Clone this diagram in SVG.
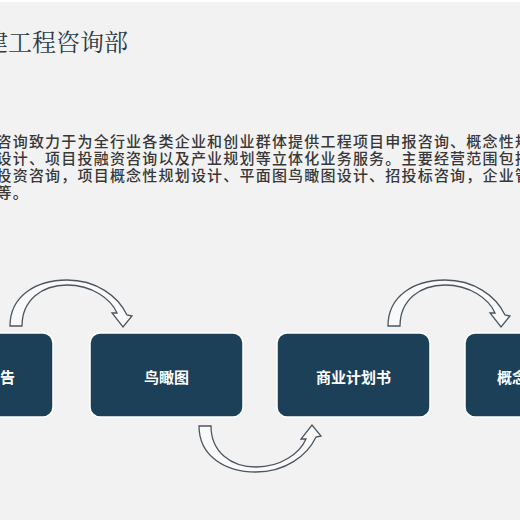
<svg xmlns="http://www.w3.org/2000/svg" width="520" height="520" viewBox="0 0 520 520">
  <style>
    .title { font-family: "Noto Serif CJK SC", "Noto Sans CJK SC", serif; font-size: 24px; fill: #2c3b47; }
    .body { font-family: "Noto Sans CJK SC", sans-serif; font-size: 15px; font-weight: 500; fill: #383838; letter-spacing: 1.2px; }
    .box { fill: #1c4058; stroke: #ffffff; stroke-width: 1.5; }
    .label { font-family: "Noto Sans CJK SC", sans-serif; font-size: 15px; font-weight: bold; fill: #ffffff; }
    .arrow { fill: #f9f9f9; stroke: #4b5661; stroke-width: 1.3; stroke-linejoin: miter; }
  </style>
  <defs>
    <path id="curvedArrow" d="M10,326 C10,296 36,280 67,280 C96,280 118,296 127,315 L132,316 L123,327 L112,313 L117,313 C111,299 92,285 67,285 C42,285 22,300 22,326 Z"/>
  </defs>
  <rect x="0" y="0" width="520" height="520" fill="#f2f2f2"/>
  <rect x="0" y="0" width="520" height="2" fill="#ffffff"/>

  <text class="title" x="-16" y="51">建工程咨询部</text>

  <g id="description">
    <text class="body" x="-3.5" y="146.5">咨询致力于为全行业各类企业和创业群体提供工程项目申报咨询、概念性规</text>
    <text class="body" x="-3.5" y="163.5">设计、项目投融资咨询以及产业规划等立体化业务服务。主要经营范围包括</text>
    <text class="body" x="-3.5" y="180.5">投资咨询，项目概念性规划设计、平面图鸟瞰图设计、招投标咨询，企业管</text>
    <text class="body" x="-3.5" y="197.5">等。</text>
  </g>

  <g id="connectors">
    <use href="#curvedArrow" class="arrow"/>
    <use href="#curvedArrow" class="arrow" transform="translate(189,752) scale(1,-1)"/>
    <use href="#curvedArrow" class="arrow" transform="translate(378,0)"/>
  </g>

  <g id="node-report">
    <rect class="box" x="-100" y="333" width="153" height="84" rx="10"/>
    <text class="label" x="15" y="382.5" text-anchor="end">告</text>
  </g>
  <g id="node-aerial">
    <rect class="box" x="90" y="333" width="153" height="84" rx="10"/>
    <text class="label" x="166.5" y="382.5" text-anchor="middle">鸟瞰图</text>
  </g>
  <g id="node-business-plan">
    <rect class="box" x="277" y="333" width="153" height="84" rx="10"/>
    <text class="label" x="353.5" y="382.5" text-anchor="middle">商业计划书</text>
  </g>
  <g id="node-concept">
    <rect class="box" x="465" y="333" width="153" height="84" rx="10"/>
    <text class="label" x="497" y="382.5">概念</text>
  </g>
</svg>
